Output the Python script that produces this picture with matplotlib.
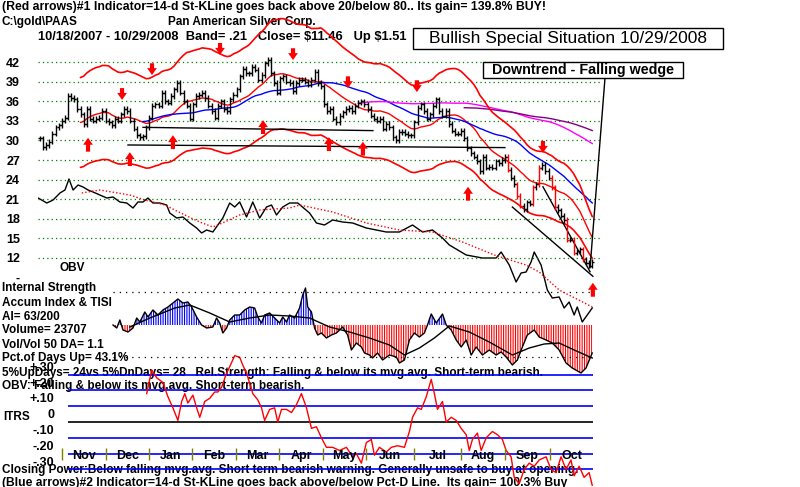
import numpy as np
import pandas as pd
import matplotlib
matplotlib.use("Agg")
import matplotlib.pyplot as plt
from matplotlib.patches import Rectangle

plt.rcParams['font.family'] = ['Liberation Sans', 'DejaVu Sans']
plt.rcParams['hatch.linewidth'] = 0.8

# ---------------- data (one bar ~ 1.5 sessions) ----------------
closes = [30.3, 29.0, 29.3, 29.8, 31.0, 32.0, 32.3, 33.0, 33.5, 36.8,
          36.5, 36.3, 34.8, 34.0, 32.5, 34.8, 33.3, 33.0, 33.3, 33.5,
          34.5, 33.0, 32.8, 32.3, 33.3, 33.0, 34.0, 34.8, 34.5, 33.0,
          31.8, 30.8, 30.5, 30.6, 32.0, 33.5, 35.3, 35.5, 35.3, 37.3,
          36.0, 35.8, 36.8, 37.8, 38.8, 37.3, 36.0, 35.3, 33.3, 35.5,
          36.8, 37.0, 37.3, 36.5, 35.3, 34.5, 33.5, 35.3, 36.0, 34.8,
          34.5, 36.3, 37.0, 37.8, 39.8, 41.0, 40.3, 40.3, 41.3, 40.8,
          39.3, 40.0, 41.8, 42.3, 40.3, 38.8, 37.3, 39.5, 39.8, 39.0,
          38.8, 37.5, 38.8, 39.3, 39.3, 39.0, 38.5, 39.3, 40.5, 38.8,
          38.3, 35.5, 34.5, 34.8, 33.3, 32.8, 33.8, 34.3, 34.8, 35.0,
          34.5, 35.3, 35.8, 36.0, 35.5, 34.8, 33.8, 33.3, 33.0, 33.3,
          31.8, 32.5, 32.0, 30.5, 30.0, 31.3, 31.3, 31.0, 30.8, 30.8,
          32.8, 35.0, 35.5, 34.5, 33.3, 34.0, 35.3, 36.3, 34.5, 33.8,
          34.5, 32.5, 31.5, 31.0, 31.0, 31.5, 30.3, 28.8, 28.0, 27.5,
          26.8, 25.3, 27.5, 25.8, 26.0, 25.8, 26.8, 26.5, 27.0, 27.5,
          25.5, 24.3, 23.3, 21.5, 20.0, 19.5, 20.5, 20.3, 22.8, 23.3,
          25.8, 26.3, 25.3, 24.3, 22.8, 19.8, 19.3, 18.5, 17.8, 14.8,
          14.8, 12.8, 13.0, 13.3, 11.8, 11.3, 10.8, 11.46]

band = 0.21
ma_windows = {'red': 14, 'blue': 34, 'magenta': 103, 'purple': 137}   # 21/50/150/200 sessions

up_arrow_bar = [15.4, 28.8, 42.6, 71.5, 92.6, 103.5, 137.2, 177.2]
up_arrow_tip = [30.4, 28.2, 30.8, 33.1, 30.5, 29.8, 22.9, 8.2]
dn_arrow_bar = [26.3, 35.9, 57.7, 81.1, 98.7, 120.8, 161.2]
dn_arrow_tip = [36.2, 40.0, 43.1, 42.3, 38.0, 37.4, 28.1]

# support lines and falling wedge: (bar0, price0, bar1, price1)
trend_lines = [(33.0, 32.0, 106.7, 31.5),
               (28.2, 29.3, 149.0, 28.9),
               (161.2, 22.9, 176.3, 9.9),
               (151.4, 19.8, 177.2, 9.2)]
wedge_tip = (176.3, 10.5)

price_levels = [12, 15, 18, 21, 24, 27, 30, 33, 36, 39, 42]

obv_bar = [-0.6, 2.2, 4.2, 6.4, 8.0, 9.3, 10.6, 12.2, 13.8, 15.4, 17.0, 19.2, 21.4, 23.4,
           25.6, 27.8, 29.8, 31.4, 33.0, 34.6, 36.2, 38.4, 40.6, 41.6, 43.8, 45.8, 48.0,
           50.2, 51.8, 53.4, 55.4, 57.0, 58.6, 60.8, 62.4, 64.0, 66.2, 68.2, 70.4, 72.6,
           74.2, 75.8, 77.8, 80.0, 82.6, 86.4, 88.6, 91.2, 93.8, 97.0, 100.2, 104.6, 107.8,
           111.0, 115.2, 119.4, 122.6, 125.8, 129.0, 131.2, 136.6, 141.8, 146.2, 147.8,
           150.4, 152.6, 154.2, 155.8, 157.4, 158.4, 160.6, 162.6, 164.2, 166.4, 168.0,
           169.6, 171.2, 172.2, 173.8, 175.4, 177.0]
obv_val = [12.2, 11.7, 12.0, 12.7, 13.0, 14.1, 13.0, 13.5, 13.3, 13.0, 12.8, 12.5, 12.2, 12.3,
           11.8, 11.7, 11.2, 11.8, 11.8, 12.2, 11.7, 11.7, 11.5, 10.7, 10.2, 10.3, 9.7,
           9.2, 8.7, 9.0, 8.8, 9.5, 10.2, 11.7, 11.3, 11.8, 10.3, 11.8, 10.2, 11.3,
           11.5, 10.5, 11.3, 11.7, 11.7, 10.7, 9.7, 9.5, 10.0, 9.8, 9.7, 9.2, 9.0,
           8.8, 8.8, 9.5, 8.8, 9.0, 8.2, 7.5, 6.5, 6.2, 6.2, 6.8,
           5.5, 3.8, 4.7, 4.8, 5.8, 6.8, 5.5, 3.0, 2.2, 2.3, 1.2,
           1.8, 0.5, 1.3, -0.2, 0.5, 1.2]
obv_ma_bar = [13.4, 19.2, 28.8, 33.6, 40.0, 46.4, 51.2, 55.4, 59.2, 64.0, 70.4, 80.0, 83.2,
              93.8, 104.6, 115.2, 125.8, 135.4, 145.6, 155.8, 160.0, 166.4, 177.0]
obv_ma_val = [12.7, 13.0, 12.5, 12.0, 11.5, 10.5, 9.8, 9.3, 9.8, 10.5, 11.0, 11.2, 11.5,
              10.8, 9.7, 9.0, 8.8, 7.8, 6.5, 5.5, 4.8, 3.0, 1.3]

ai_bar = [23.4, 24.6, 25.6, 26.6, 28.2, 29.8, 31.0, 32.0, 33.6, 34.6, 36.2, 37.8, 39.4, 41.0,
          42.6, 44.2, 45.8, 47.4, 48.6, 50.2, 51.8, 53.4, 55.4, 56.6, 57.6, 58.6, 59.8, 60.8,
          62.4, 64.0, 65.6, 67.2, 68.8, 69.8, 71.0, 72.0, 73.6, 75.2, 76.8, 77.8, 79.0, 80.0,
          81.6, 83.2, 84.2, 85.1, 85.8, 87.0, 88.0, 89.0, 90.2, 91.8, 93.4, 95.0, 97.0, 98.6,
          99.8, 101.4, 103.0, 104.0, 105.6, 106.6, 108.2, 109.8, 112.0, 114.2, 115.2, 116.8,
          118.4, 120.0, 121.6, 123.2, 124.2, 125.4, 127.0, 129.0, 130.2, 131.8, 133.4, 135.0,
          136.6, 138.2, 139.8, 141.8, 144.0, 146.2, 147.8, 149.4, 151.4, 153.0, 154.6, 156.2,
          158.4, 160.0, 162.2, 164.2, 166.4, 168.6, 170.6, 173.4, 175.0, 177.0]
ai_val = [0.00, -0.03, 0.05, -0.05, -0.07, -0.03, 0.07, 0.03, 0.13, 0.08, 0.15, 0.10, 0.15, 0.18,
          0.22, 0.26, 0.22, 0.23, 0.18, 0.08, 0.00, -0.03, -0.02, 0.07, 0.02, -0.08, -0.03, 0.05,
          0.10, 0.10, 0.15, 0.18, 0.17, 0.08, 0.02, 0.10, 0.12, 0.07, 0.02, 0.08, 0.03, 0.10,
          0.07, 0.17, 0.30, 0.37, 0.18, 0.13, -0.03, -0.10, -0.08, -0.13, -0.10, -0.08, -0.02, -0.10,
          -0.25, -0.18, -0.22, -0.28, -0.30, -0.33, -0.28, -0.35, -0.30, -0.32, -0.38, -0.35,
          -0.15, -0.08, -0.12, -0.08, 0.00, 0.11, 0.02, 0.11, 0.00, -0.05, -0.15, -0.22,
          -0.15, -0.30, -0.22, -0.30, -0.25, -0.30, -0.27, -0.32, -0.40, -0.35, -0.22, -0.10,
          -0.05, -0.12, -0.15, -0.18, -0.25, -0.38, -0.43, -0.48, -0.43, -0.28]
ai_ma_bar = [28.8, 35.2, 43.2, 48.0, 54.4, 60.8, 67.2, 73.6, 80.0, 86.4, 92.8, 99.2, 105.6,
             112.0, 116.8, 121.6, 126.4, 131.2, 137.6, 144.0, 151.4, 156.8, 161.6, 166.4,
             171.2, 177.0]
ai_ma_val = [-0.02, 0.07, 0.17, 0.20, 0.12, 0.03, 0.07, 0.10, 0.09, 0.07, -0.02, -0.07, -0.13,
             -0.20, -0.30, -0.23, -0.13, -0.01, -0.07, -0.17, -0.30, -0.23, -0.19, -0.18,
             -0.25, -0.33]

itrs_bar = [34.2, 35.8, 37.4, 39.4, 41.0, 42.6, 44.2, 45.4, 46.4, 47.4, 49.0, 50.2, 51.2, 52.8,
            54.4, 56.0, 57.0, 58.2, 59.8, 60.8, 62.4, 64.0, 65.0, 66.2, 68.2, 69.8, 71.0, 72.0,
            73.6, 75.2, 76.2, 77.4, 79.0, 80.6, 82.2, 83.8, 85.4, 87.0, 88.6, 90.2, 91.8, 93.8,
            96.0, 98.2, 100.2, 101.4, 103.0, 104.6, 106.2, 107.2, 108.8, 111.0, 112.6, 114.6,
            116.8, 118.4, 119.4, 121.0, 122.2, 123.8, 125.4, 126.4, 127.4, 129.0, 130.2, 131.8,
            133.4, 135.0, 136.6, 137.6, 138.6, 140.2, 141.4, 143.0, 145.0, 146.6, 148.2, 149.4,
            151.0, 152.0, 153.6, 155.2, 156.8, 158.4, 160.0, 162.2, 163.8, 165.4, 167.0, 168.6,
            170.2, 171.2, 172.8, 174.4, 176.0, 177.0]
itrs_val = [0.18, 0.33, 0.28, 0.25, 0.16, 0.09, 0.01, 0.13, 0.18, 0.12, 0.17, 0.09, 0.03, 0.13,
            0.15, 0.19, 0.19, 0.22, 0.31, 0.35, 0.42, 0.41, 0.36, 0.31, 0.18, 0.14, 0.09, 0.01,
            0.08, 0.09, 0.00, 0.08, 0.08, 0.06, 0.11, 0.18, 0.09, -0.04, -0.03, -0.10, -0.16, -0.16,
            -0.18, -0.16, -0.22, -0.20, -0.26, -0.13, -0.11, -0.21, -0.16, -0.19, -0.16, -0.15,
            -0.16, -0.06, 0.03, 0.09, 0.08, 0.16, 0.27, 0.18, 0.08, 0.13, 0.00, 0.03,
            0.01, -0.04, -0.08, -0.18, -0.11, -0.07, -0.18, -0.10, -0.06, -0.08, -0.11, -0.18,
            -0.22, -0.35, -0.39, -0.30, -0.26, -0.28, -0.24, -0.22, -0.30, -0.32, -0.22, -0.30,
            -0.24, -0.34, -0.28, -0.35, -0.32, -0.40]
itrs_levels = [0.30, 0.20, 0.10, 0.0, -0.10, -0.20, -0.30]
itrs_labels = ['+.30', '+.20', '+.10', '0', '-.10', '-.20', '-.30']

month_start_bar = [7.0, 21.2, 35.0, 48.7, 62.8, 76.6, 90.7, 104.5, 119.9, 135.0, 149.0, 163.5]
month_names = ['Nov', 'Dec', 'Jan', 'Feb', 'Mar', 'Apr', 'May', 'Jun', 'Jul', 'Aug', 'Sep', 'Oct']

# ---------------- figure ----------------
W, H = 800, 487
X0, DX = 40.0, 3.12        # bar 0 sits at x=40 px, 3.12 px per bar
fig = plt.figure(figsize=(8, 4.87), dpi=100)


def px_axes(left, top, right, bottom, ylim, z):
    ax = fig.add_axes([left / W, 1 - bottom / H, (right - left) / W, (bottom - top) / H], zorder=z)
    ax.set_xlim((left - X0) / DX, (right - X0) / DX)
    ax.set_ylim(ylim)
    ax.patch.set_alpha(0)
    ax.set_xticks([])
    ax.set_yticks([])
    for sp in ax.spines.values():
        sp.set_visible(False)
    return ax


def label(x, y, s, size=8.5, weight='bold', **kw):
    fig.text(x / W, 1 - y / H, s, fontsize=size, fontweight=weight, va='center', zorder=-1, **kw)


# ---- price panel ----
ax = px_axes(38, 40, 600, 290, (7.10, 45.37), 4)
for p in price_levels:
    ax.axhline(p, color='#008000', lw=0.9, ls=(0, (1, 2.5)), zorder=0)
ax.set_yticks([9] + price_levels, ['-'] + [str(p) for p in price_levels])
ax.tick_params(axis='y', length=0, pad=13, labelsize=9)
for t in ax.get_yticklabels():
    t.set_fontweight('bold')

c = pd.Series(closes)
bars = np.arange(len(c))
for colr, w in ma_windows.items():
    ax.plot(bars, c.rolling(w).mean(), color=colr, lw=1, zorder=2)
ma21 = c.rolling(ma_windows['red']).mean()
ax.plot(bars, ma21 * (1 + band), color='red', lw=1.2, zorder=2, clip_on=False)
ax.plot(bars, ma21 * (1 - band), color='red', lw=1.2, zorder=2)

o = c.shift(1).fillna(c.iloc[0]).values
cv = c.values
hi = np.maximum(o, cv) + 0.4
lo = np.minimum(o, cv) - 0.4
red = (np.abs(cv - o) >= 1.4) & (bars >= 150)
cols = np.where(red, 'red', 'black')
ax.vlines(bars, lo, hi, colors=cols, lw=1, zorder=3)
ax.hlines(o, bars - 0.6, bars, colors=cols, lw=1, zorder=3)
ax.hlines(cv, bars, bars + 0.6, colors=cols, lw=1, zorder=3)

for b0, p0, b1, p1 in trend_lines:
    ax.plot([b0, b1], [p0, p1], color='black', lw=1, zorder=2)

arrow = dict(arrowstyle='simple,head_length=0.5,head_width=0.7,tail_width=0.3',
             fc='red', ec='red', lw=0, shrinkA=0, shrinkB=0)
for b, p in zip(up_arrow_bar, up_arrow_tip):
    ax.annotate('', xy=(b, p), xytext=(0, -10), textcoords='offset points',
                arrowprops=arrow, annotation_clip=False)
for b, p in zip(dn_arrow_bar, dn_arrow_tip):
    ax.annotate('', xy=(b, p), xytext=(0, 8.5), textcoords='offset points',
                arrowprops=arrow, annotation_clip=False)

ax.annotate('', xy=wedge_tip, xytext=(605, H - 78), textcoords='figure pixels',
            arrowprops=dict(arrowstyle='-', color='black', lw=1, shrinkA=0, shrinkB=0))

# ---- OBV ----
ax_obv = px_axes(38, 170, 600, 330, (-1, 15), 3)
ax_obv.plot(obv_bar, obv_val, color='black', lw=1)
ax_obv.plot(obv_ma_bar, obv_ma_val, color='red', lw=1, ls=(0, (1, 1.5)))

# ---- Accumulation index ----
ax_ai = px_axes(38, 280, 600, 380, (-0.55, 0.45), 2)
aiv = np.array(ai_val)
ax_ai.fill_between(ai_bar, 0, aiv, where=aiv >= 0, interpolate=True, facecolor='none',
                   edgecolor='blue', hatch='|||||||', linewidth=0)
ax_ai.fill_between(ai_bar, 0, aiv, where=aiv <= 0, interpolate=True, facecolor='none',
                   edgecolor='red', hatch='|||||||', linewidth=0)
ax_ai.plot(ai_bar, aiv, color='black', lw=1)
ax_ai.plot(ai_ma_bar, ai_ma_val, color='black', lw=1)
ax_ai.hlines([0.33, -0.32], 23.4, 177.2, colors='black', lw=0.9, linestyles=(0, (1, 4)))

# ---- ITRS ----
ax_it = px_axes(38, 340, 600, 487, (-0.411, 0.519), 1)
ax_it.hlines([l for l in itrs_levels if l != 0], 8.97, 177.2, colors='blue', lw=1.2)
ax_it.hlines(0, 8.97, 177.2, colors='black', lw=1.2)
ax_it.plot(itrs_bar, itrs_val, color='red', lw=1)
for l, s in zip(itrs_levels, itrs_labels):
    ax_it.text(4.5, l + 0.005, s, ha='right', va='bottom', fontsize=9, fontweight='bold')
ax_it.vlines(month_start_bar, -0.24, -0.165, colors='#808000', lw=1)
month_end = month_start_bar[1:] + [177.2]
for a, b, name in zip(month_start_bar, month_end, month_names):
    ax_it.text((a + b) / 2, -0.215, name, ha='center', va='center', fontsize=9, fontweight='bold')

# ---- texts ----
label(2, 7, "(Red arrows)#1 Indicator=14-d St-KLine goes back above 20/below 80.. Its gain= 139.8% BUY!", size=8.8)
label(2, 22, "C:\\gold\\PAAS")
label(168, 22, "Pan American Silver Corp.")
label(38, 37, "10/18/2007 - 10/29/2008  Band= .21   Close= \\$11.46   Up \\$1.51", size=9.3)
label(60, 268, "OBV")
label(2, 288, "Internal Strength")
label(2, 303, "Accum Index & TISI")
label(2, 317, "AI= 63/200")
label(2, 330, "Volume= 23707")
label(2, 345, "Vol/Vol 50 DA= 1.1")
label(2, 358, "Pct.of Days Up= 43.1%")
label(2, 373, "5%UpDays= 24vs 5%DnDays= 28   Rel.Strength: Falling & below its mvg.avg. Short-term bearish.")
label(2, 386, "OBV: Falling & below its mvg.avg. Short-term bearish.")
label(3, 417, "ITRS")
label(2, 470, "Closing Power:Below falling mvg.avg. Short term bearish warning. Generally unsafe to buy at opening.")
label(2, 483, "(Blue arrows)#2 Indicator=14-d St-KLine goes back above/below Pct-D Line.  Its gain= 100.3% Buy",
      size=8.7)

for (x0, y0, x1, y1, s, size, weight) in [(413, 28, 723, 49, "Bullish Special Situation 10/29/2008", 12.5, 'normal'),
                                          (483, 62, 683, 78, "Downtrend - Falling wedge", 10.3, 'bold')]:
    fig.patches.append(Rectangle((x0 / W, 1 - y1 / H), (x1 - x0) / W, (y1 - y0) / H,
                                 transform=fig.transFigure, fc='white', ec='black', lw=1, zorder=5))
    fig.text((x0 + x1) / 2 / W, 1 - (y0 + y1) / 2 / H, s, ha='center', va='center',
             fontsize=size, fontweight=weight, zorder=6)

fig.savefig("out.png", dpi=100, facecolor='white')
